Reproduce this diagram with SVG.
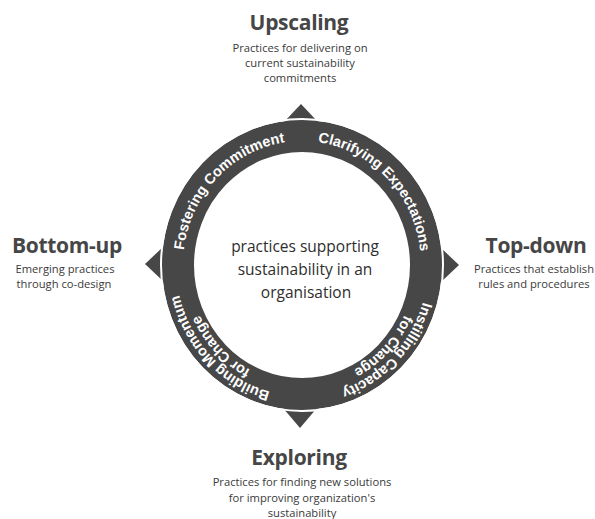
<svg xmlns="http://www.w3.org/2000/svg" width="595" height="519" viewBox="0 0 595 519">
<style>
.h{font-family:"Open Sans","Liberation Sans",sans-serif;font-weight:700;font-size:21px;letter-spacing:-0.3px;fill:#464646;text-anchor:middle}
.s{font-family:"Open Sans","Liberation Sans",sans-serif;font-size:11.2px;fill:#3a3a3a;text-anchor:middle}
.c{font-family:"Open Sans","Liberation Sans",sans-serif;font-size:15.5px;fill:#2e2e2e;text-anchor:middle}
.r{font-family:"Liberation Sans",Arial,sans-serif;font-weight:700;font-size:14.5px;fill:#fff;text-anchor:middle}
.tri{fill:#474747}
</style>
<defs>
<path id="pF" d="M210.84,344.70 A119,124 0 0 1 378.49,170.01"/>
<path id="pC" d="M225.51,170.01 A119,124 0 0 1 393.16,344.70"/>
<path id="pI1" d="M398.52,180.79 A126,131 0 0 1 221.01,365.35"/>
<path id="pI2" d="M388.56,189.15 A113,118 0 0 1 229.36,355.39"/>
<path id="pB1" d="M382.99,365.35 A126,131 0 0 1 205.48,180.79"/>
<path id="pB2" d="M374.64,355.39 A113,118 0 0 1 215.44,189.15"/>
</defs>
<g id="connectors">
<polygon class="tri" points="301,104 284,122 318,122"/>
<polygon class="tri" points="459,265 441,248 441,282"/>
<polygon class="tri" points="300,428 283,408 317,408"/>
<polygon class="tri" points="145,264 163,247 163,281"/>
</g>
<g id="ring">
<ellipse cx="302" cy="265" rx="124" ry="129" fill="none" stroke="#474747" stroke-width="32"/>
<ellipse cx="302" cy="265" rx="141" ry="146" fill="none" stroke="#fff" stroke-width="2"/>
<text class="r"><textPath href="#pF" startOffset="50%">Fostering Commitment</textPath></text>
<text class="r"><textPath href="#pC" startOffset="50%">Clarifying Expectations</textPath></text>
<text class="r"><textPath href="#pI1" startOffset="50%">Instilling Capacity</textPath></text>
<text class="r"><textPath href="#pI2" startOffset="50%">for Change</textPath></text>
<text class="r"><textPath href="#pB1" startOffset="50%">Building Momentum</textPath></text>
<text class="r"><textPath href="#pB2" startOffset="50%">for Change</textPath></text>
</g>
<g id="center">
<text class="c" x="305" y="252">practices supporting</text>
<text class="c" x="305" y="275">sustainability in an</text>
<text class="c" x="306" y="298">organisation</text>
</g>
<g id="upscaling">
<text class="h" x="299" y="30">Upscaling</text>
<text class="s" x="300" y="52">Practices for delivering on</text>
<text class="s" x="300" y="67">current sustainability</text>
<text class="s" x="300" y="82">commitments</text>
</g>
<g id="bottomup">
<text class="h" x="67" y="253">Bottom-up</text>
<text class="s" x="65" y="273">Emerging practices</text>
<text class="s" x="64" y="288">through co-design</text>
</g>
<g id="topdown">
<text class="h" x="536" y="253">Top-down</text>
<text class="s" x="534" y="273">Practices that establish</text>
<text class="s" x="534" y="288">rules and procedures</text>
</g>
<g id="exploring">
<text class="h" x="299" y="465">Exploring</text>
<text class="s" x="302" y="486">Practices for finding new solutions</text>
<text class="s" x="302" y="502">for improving organization's</text>
<text class="s" x="302" y="517">sustainability</text>
</g>
</svg>
